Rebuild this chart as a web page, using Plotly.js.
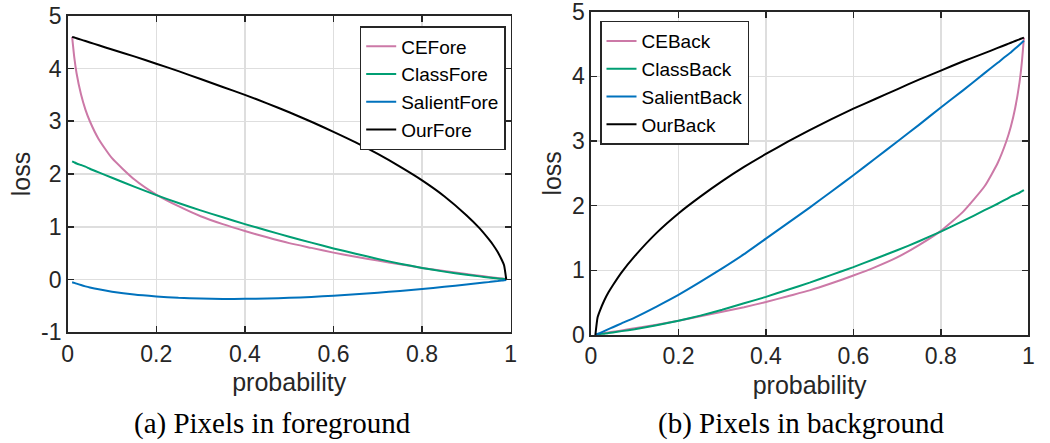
<!DOCTYPE html>
<html>
<head>
<meta charset="utf-8">
<script src="https://cdn.plot.ly/plotly-3.0.1.min.js"></script>
<style>html,body{margin:0;padding:0;background:#fff;}#chart{width:1050px;height:443px;}</style>
</head>
<body>
<div id="chart"></div>
<script>
// probability samples (shared by all curves)
const probability = [0.01,0.015,0.02,0.03,0.04,0.05,0.07,0.1,0.15,0.2,0.25,0.3,0.35,0.4,0.45,0.5,0.55,0.6,0.65,0.7,0.75,0.8,0.85,0.9,0.93,0.95,0.96,0.97,0.98,0.985,0.99];

// (a) foreground
const ceFore      = [4.6,4.2,3.91,3.51,3.22,3.0,2.66,2.3,1.9,1.61,1.39,1.2,1.05,0.92,0.8,0.69,0.6,0.51,0.43,0.36,0.29,0.22,0.16,0.105,0.07,0.05,0.04,0.03,0.02,0.015,0.01];
const classFore   = [2.24,2.22,2.2,2.17,2.14,2.1,2.03,1.93,1.76,1.6,1.45,1.31,1.18,1.05,0.93,0.81,0.7,0.59,0.49,0.39,0.3,0.22,0.15,0.09,0.06,0.04,0.03,0.02,0.015,0.01,0.005];
const salientFore = [-0.05,-0.063,-0.078,-0.105,-0.129,-0.15,-0.186,-0.23,-0.285,-0.32,-0.347,-0.361,-0.367,-0.366,-0.359,-0.347,-0.329,-0.306,-0.28,-0.25,-0.216,-0.178,-0.138,-0.095,-0.067,-0.049,-0.039,-0.03,-0.02,-0.015,-0.01];
const ourFore     = [4.6,4.587,4.573,4.547,4.52,4.493,4.44,4.36,4.23,4.09,3.95,3.8,3.65,3.5,3.34,3.17,2.99,2.8,2.6,2.38,2.14,1.88,1.58,1.22,0.97,0.77,0.66,0.53,0.37,0.27,0.0];

// (b) background
const ceBack      = [0.01,0.015,0.02,0.03,0.04,0.05,0.07,0.105,0.16,0.22,0.29,0.36,0.43,0.51,0.6,0.69,0.8,0.92,1.05,1.2,1.39,1.61,1.9,2.3,2.66,3.0,3.22,3.51,3.91,4.2,4.6];
const classBack   = [0.005,0.01,0.015,0.02,0.03,0.04,0.06,0.09,0.15,0.22,0.3,0.39,0.49,0.59,0.7,0.81,0.93,1.05,1.18,1.31,1.45,1.6,1.76,1.93,2.03,2.1,2.14,2.17,2.2,2.22,2.24];
const salientBack = [0.0,0.015,0.03,0.06,0.09,0.12,0.18,0.27,0.44,0.62,0.82,1.03,1.25,1.49,1.73,1.97,2.22,2.47,2.73,2.99,3.25,3.52,3.78,4.05,4.21,4.32,4.37,4.43,4.49,4.52,4.55];
const ourBack     = [0.0,0.27,0.37,0.53,0.66,0.77,0.97,1.22,1.58,1.88,2.14,2.38,2.6,2.8,2.99,3.17,3.34,3.5,3.65,3.8,3.95,4.09,4.23,4.36,4.44,4.493,4.52,4.547,4.573,4.587,4.6];

const namesFore = ['CEFore','ClassFore','SalientFore','OurFore'];
const namesBack = ['CEBack','ClassBack','SalientBack','OurBack'];
const colors = ['#CC79A7','#009E73','#0072BD','#000000'];

const xTickVals = [0,0.2,0.4,0.6,0.8,1];
const xTickText = ['0','0.2','0.4','0.6','0.8','1'];
const yTickValsA = [-1,0,1,2,3,4,5];
const yTickTextA = ['-1','0','1','2','3','4','5'];
const yTickValsB = [0,1,2,3,4,5];
const yTickTextB = ['0','1','2','3','4','5'];
const captionA = '(a) Pixels in foreground';
const captionB = '(b) Pixels in background';

const fore = [ceFore, classFore, salientFore, ourFore];
const back = [ceBack, classBack, salientBack, ourBack];

const traces = [];
fore.forEach((ys,i)=>traces.push({x:probability,y:ys,name:namesFore[i],type:'scatter',mode:'lines',
  line:{color:colors[i],width:2,shape:'spline',smoothing:0.5},xaxis:'x',yaxis:'y',legend:'legend'}));
back.forEach((ys,i)=>traces.push({x:probability,y:ys,name:namesBack[i],type:'scatter',mode:'lines',
  line:{color:colors[i],width:2,shape:'spline',smoothing:0.5},xaxis:'x2',yaxis:'y2',legend:'legend2'}));

const W=1050,H=443;
const px=v=>v/W, py=v=>(H-v)/H;
const sans='Arial, "Liberation Sans", sans-serif';
const axisFont={family:sans,size:23,color:'#262626'};
const titleFont={family:sans,size:25,color:'#262626'};
const common={showline:true,linecolor:'#262626',linewidth:1.6,mirror:'ticks',ticks:'inside',ticklen:6,tickwidth:1.6,tickcolor:'#262626',
  showgrid:true,gridcolor:'#dedede',gridwidth:1.5,zeroline:false,tickfont:axisFont,tickmode:'array',ticklabeloverflow:'allow'};

const layout={
  width:W,height:H,autosize:false,margin:{l:0,r:0,t:0,b:0},
  paper_bgcolor:'#fff',plot_bgcolor:'#fff',showlegend:true,
  xaxis:Object.assign({},common,{domain:[px(67.7),px(510.7)],range:[0,1],tickvals:xTickVals,ticktext:xTickText,anchor:'y',
    title:{text:'probability',font:titleFont,standoff:8}}),
  yaxis:Object.assign({},common,{domain:[py(332.3),py(15.7)],range:[-1,5.0005],tickvals:yTickValsA,ticktext:yTickTextA,anchor:'x',
    title:{text:'loss',font:titleFont,standoff:3}}),
  xaxis2:Object.assign({},common,{domain:[px(591),px(1028.3)],range:[0,1],tickvals:xTickVals,ticktext:xTickText,anchor:'y2',
    title:{text:'probability',font:titleFont,standoff:8}}),
  yaxis2:Object.assign({},common,{domain:[py(335),py(11.7)],range:[0,5.0005],tickvals:yTickValsB,ticktext:yTickTextB,anchor:'x2',
    title:{text:'loss',font:titleFont,standoff:3}}),
  legend:{x:px(505.7),xanchor:'right',y:py(26),yanchor:'top',bgcolor:'#fff',bordercolor:'#262626',borderwidth:1.5,
    font:{family:sans,size:19,color:'#000'},tracegroupgap:0},
  legend2:{x:px(600),xanchor:'left',y:py(20.7),yanchor:'top',bgcolor:'#fff',bordercolor:'#262626',borderwidth:1.5,
    font:{family:sans,size:19,color:'#000'},tracegroupgap:0},
  annotations:[
    {text:captionA,xref:'paper',yref:'paper',x:px(272.2),y:py(423),xanchor:'center',yanchor:'middle',showarrow:false,
     font:{family:'"Times New Roman", "Liberation Serif", serif',size:29,color:'#000'}},
    {text:captionB,xref:'paper',yref:'paper',x:px(800.5),y:py(423),xanchor:'center',yanchor:'middle',showarrow:false,
     font:{family:'"Times New Roman", "Liberation Serif", serif',size:29,color:'#000'}}
  ]
};
Plotly.newPlot('chart',traces,layout,{displayModeBar:false,staticPlot:true});
</script>
</body>
</html>
